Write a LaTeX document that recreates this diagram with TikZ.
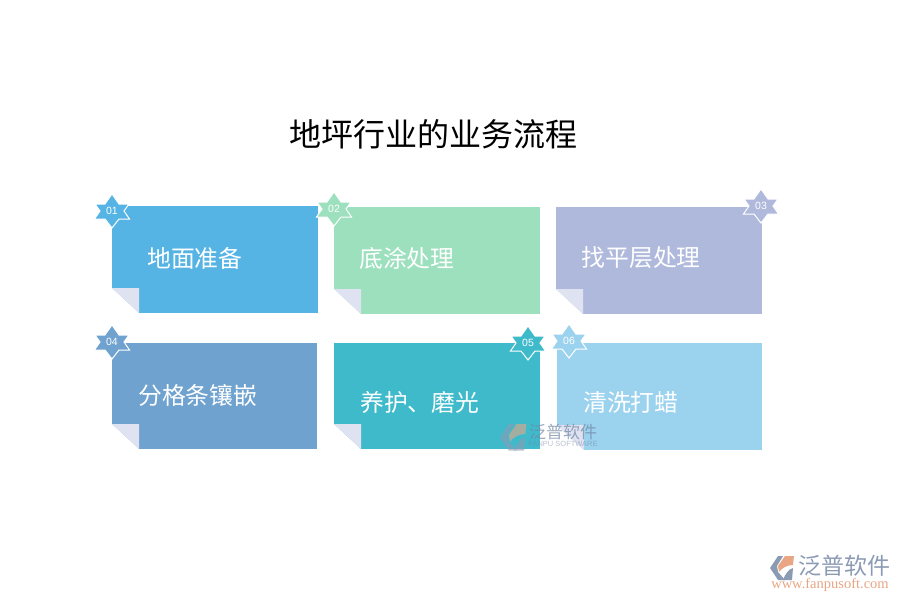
\documentclass[tikz,border=0pt]{standalone}
\usepackage{fontspec}
\setmainfont{Liberation Sans}
\newfontfamily\cjk{Noto Sans CJK SC}
\definecolor{cardblue}{HTML}{56B4E4}
\definecolor{cardgreen}{HTML}{9CE0BE}
\definecolor{cardlilac}{HTML}{AFB9DC}
\definecolor{cardsteel}{HTML}{6FA2CE}
\definecolor{cardteal}{HTML}{3FBACB}
\definecolor{cardsky}{HTML}{9BD2EE}
\definecolor{foldlilac}{HTML}{DFE2F1}
\definecolor{logogray}{HTML}{8C9BB4}
\definecolor{logopeach}{HTML}{E8A684}
\definecolor{markgray}{HTML}{6F86A3}
\tikzset{
  card/.style={fill=#1, minimum width=206pt, minimum height=107pt, inner sep=0pt, outer sep=0pt, anchor=north west},
  badge/.style={fill=#1, draw=white, line width=1pt, line join=miter},
  badgetext/.style={text=white, inner sep=0pt, font=\fontsize{10.5}{10.5}\selectfont},
  cardlabel/.style={text=white, inner sep=0pt, anchor=west, font=\fontsize{23.8}{24}\selectfont\cjk},
  fold/.style={fill=foldlilac},
  cutoff/.style={fill=white}
}
% six pointed badge: name, centre, colour, number
\newcommand{\drawbadge}[4]{
  \draw[badge=#3, shift={#2}] (0,-17) -- (7,-7) -- (17,-7) -- (12,0) -- (17.5,8) -- (7,8)
    -- (0,17) -- (-7,8) -- (-17.5,8) -- (-12,0) -- (-17,-7) -- (-7,-7) -- cycle;
  \node[badgetext] (#1) at #2 {#4};
}
% company mark: top left corner, scale, opacity
\newcommand{\drawmark}[3]{
  \begin{scope}[shift={#1}, scale=#2, opacity=#3]
    \fill[logogray] (0,13) -- (8,1) -- (13,1) -- (7,11) -- (8,17) -- (15,25) -- (8,25) -- cycle;
    \fill[logopeach] (15,1) -- (24,1) -- (23,10) .. controls (17,10) and (12,13) .. (9,17) -- (8,11) -- cycle;
    \fill[logogray] (13,25) .. controls (15,19) and (19,14) .. (23,13) -- (22,25) -- cycle;
  \end{scope}
}
\begin{document}
\begin{tikzpicture}[x=1pt,y=-1pt]
  \useasboundingbox (0,0) rectangle (900,600);

  %% title
  \node[inner sep=0pt, text=black] (title) at (433,134) {\fontsize{32}{32}\selectfont\cjk 地坪行业的业务流程};

  %% cards
  \node[card=cardblue]  (prep)   at (112,206) {};
  \node[card=cardgreen] (prime)  at (334,207) {};
  \node[card=cardlilac] (level)  at (556,207) {};
  \node[card=cardsteel, minimum height=106pt, minimum width=205pt] (inlay) at (112,343) {};
  \node[card=cardteal, minimum height=106pt]  (polish) at (334,343) {};
  \node[card=cardsky, minimum width=205pt]    (wax)    at (557,343) {};

  %% folded corners
  \foreach \c in {prep,prime,level,inlay,polish,wax}{
    \fill[cutoff] (\c.south west) -- +(27,0) -- +(0,-25) -- cycle;
    \fill[fold] (\c.south west) ++(0,-25) -- ++(27,0) -- ++(0,25) -- cycle;
  }

  %% labels
  \node[cardlabel] (preptext)   at (147,258) {地面准备};
  \node[cardlabel] (primetext)  at (359,258) {底涂处理};
  \node[cardlabel] (leveltext)  at (581.5,258) {找平层处理};
  \node[cardlabel] (inlaytext)  at (138,395) {分格条镶嵌};
  \node[cardlabel] (polishtext) at (360,402) {养护、磨光};
  \node[cardlabel] (waxtext)    at (583,402) {清洗打蜡};

  %% badges
  \drawbadge{b1}{(112,211)}{cardblue}{01}
  \drawbadge{b2}{(334,209)}{cardgreen}{02}
  \drawbadge{b3}{(761,206)}{cardlilac}{03}
  \drawbadge{b4}{(112,342)}{cardsteel}{04}
  \drawbadge{b5}{(528,343)}{cardteal}{05}
  \drawbadge{b6}{(569,341)}{cardsky}{06}

  %% watermark
  \drawmark{(500,423)}{1.1}{.6}
  \node[inner sep=0pt, text=markgray, opacity=.7] (marktext) at (563,432) {\fontsize{17}{17}\selectfont\cjk 泛普软件};
  \node[inner sep=0pt, text=markgray, opacity=.5] (marksub) at (563,444) {\fontsize{7.5}{7.5}\selectfont FANPU SOFTWARE};

  %% corner logo
  \drawmark{(770,555)}{1}{1}
  \node[inner sep=0pt, text=logogray] (logotext) at (844,566) {\fontsize{23}{23}\selectfont\cjk 泛普软件};
  \node[inner sep=0pt, text=logopeach] (logourl) at (830,584.5) {\fontsize{14.5}{14.5}\selectfont\fontspec{Liberation Serif} www.fanpusoft.com};
\end{tikzpicture}
\end{document}
